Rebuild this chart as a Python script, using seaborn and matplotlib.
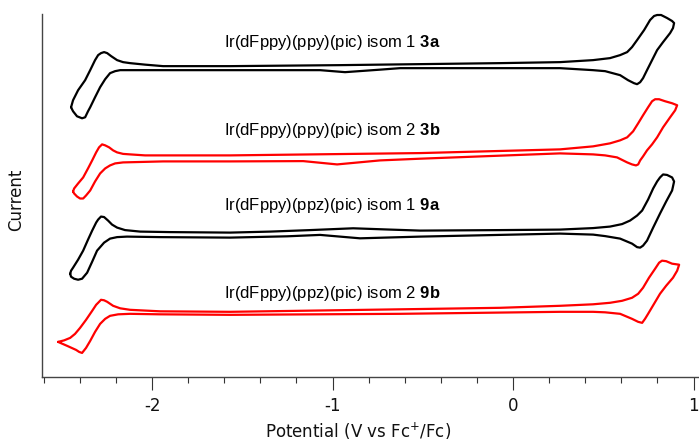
import matplotlib
matplotlib.use("Agg")
import matplotlib.pyplot as plt
import seaborn as sns
import pandas as pd

# ---- data (potential in V vs Fc+/Fc, current in arbitrary units incl. vertical offset) ----
v_3a = [-2.449, -2.438, -2.410, -2.371, -2.343, -2.316, -2.299, -2.283, -2.266, -2.249,
        -2.227, -2.194, -2.161, -2.122, -2.039, -1.939, -1.568, -0.958, -0.515, -0.072,
        0.260, 0.443, 0.537, 0.593, 0.632, 0.659, 0.687, 0.726, 0.759, 0.781,
        0.798, 0.820, 0.853, 0.881, 0.892, 0.886, 0.870, 0.831, 0.798, 0.770,
        0.742, 0.720, 0.704, 0.687, 0.670, 0.637, 0.593, 0.510, 0.443, 0.260,
        -0.072, -0.626, -0.737, -0.931, -1.069, -1.568, -1.939, -2.066, -2.177, -2.205,
        -2.233, -2.260, -2.288, -2.316, -2.343, -2.355, -2.371, -2.388, -2.416, -2.438,
        -2.449]
i_3a = [269, 276, 286, 296, 306, 316, 321, 323, 324, 323,
        320, 316, 314, 313, 311.5, 310, 310, 311, 312, 313,
        314, 316, 318, 321, 324, 329, 336, 346, 356, 360,
        361, 361, 358, 355, 353, 348, 343, 334, 326, 316,
        306, 298, 294, 292, 293, 296, 301, 305, 306, 308,
        308, 308, 306.5, 304, 306, 306, 306, 306, 306, 305,
        303, 297, 289, 279, 269, 265, 259, 258, 260, 265,
        269]

v_3b = [-2.438, -2.432, -2.410, -2.382, -2.355, -2.332, -2.310, -2.294, -2.277, -2.260,
        -2.238, -2.216, -2.194, -2.161, -2.122, -2.039, -1.939, -1.568, -0.515, 0.260,
        0.443, 0.537, 0.593, 0.632, 0.665, 0.693, 0.720, 0.748, 0.770, 0.787,
        0.809, 0.842, 0.881, 0.909, 0.898, 0.870, 0.831, 0.798, 0.770, 0.742,
        0.720, 0.704, 0.693, 0.681, 0.659, 0.632, 0.576, 0.510, 0.443, 0.260,
        -0.515, -0.737, -0.975, -1.163, -1.568, -1.939, -2.161, -2.205, -2.233, -2.260,
        -2.288, -2.316, -2.343, -2.366, -2.382, -2.399, -2.416, -2.432, -2.438]
i_3b = [185, 188, 193, 199, 208, 216, 224, 229, 232, 231,
        229, 226, 224, 222.5, 222, 221, 221, 221, 223.3, 227,
        230, 233, 236, 239, 245, 253, 261, 269, 275, 277,
        277, 275, 273, 271, 266, 259, 249, 239, 232, 226,
        220, 216, 212, 211, 212, 214, 219, 221, 222, 223,
        217.7, 216, 212, 215.3, 215, 215, 214, 213, 211, 208,
        203, 195, 186, 181, 178, 178, 180, 183, 185]

v_9a = [-2.454, -2.449, -2.438, -2.410, -2.382, -2.355, -2.332, -2.310, -2.299, -2.283,
        -2.266, -2.244, -2.222, -2.194, -2.150, -2.066, -1.900, -1.568, -1.346, -1.125,
        -0.886, -0.681, -0.515, -0.072, 0.260, 0.443, 0.537, 0.604, 0.648, 0.687,
        0.715, 0.748, 0.776, 0.798, 0.814, 0.831, 0.853, 0.881, 0.892, 0.886,
        0.881, 0.848, 0.814, 0.776, 0.742, 0.720, 0.704, 0.687, 0.659, 0.593,
        0.510, 0.443, 0.260, -0.515, -0.848, -1.069, -1.252, -1.568, -1.956, -2.139,
        -2.194, -2.233, -2.266, -2.305, -2.332, -2.360, -2.388, -2.410, -2.432, -2.449,
        -2.454]
i_9a = [103, 106, 109, 117, 126, 137, 146, 154, 157, 160,
        159.5, 156, 152, 149, 146.5, 145, 144.5, 144, 145, 146.5,
        148.3, 147, 146, 146.5, 147, 148.5, 150, 152.5, 156, 161,
        166, 177, 188, 195, 199, 202, 201.5, 199, 195, 190,
        186, 175, 163, 149, 136, 131, 129, 129.5, 133, 138,
        140.5, 142, 143, 140, 138.3, 141.7, 140.3, 139, 139.5, 140,
        139.5, 138, 134, 126, 115, 104, 98, 97, 98, 100,
        103]

v_9b = [-2.521, -2.488, -2.454, -2.427, -2.399, -2.366, -2.332, -2.310, -2.299, -2.283,
        -2.266, -2.249, -2.216, -2.177, -2.122, -1.956, -1.568, -0.626, -0.072, 0.260,
        0.443, 0.537, 0.604, 0.659, 0.693, 0.720, 0.753, 0.787, 0.809, 0.825,
        0.848, 0.881, 0.920, 0.909, 0.886, 0.848, 0.814, 0.781, 0.748, 0.731,
        0.715, 0.693, 0.659, 0.593, 0.510, 0.443, 0.260, -0.626, -1.568, -1.956,
        -2.122, -2.188, -2.233, -2.260, -2.288, -2.316, -2.343, -2.366, -2.388, -2.404,
        -2.421, -2.470, -2.521]
i_9b = [35, 36.5, 39, 43, 49, 57, 66, 72, 74, 77,
        76.5, 75, 71, 68.5, 67, 65.5, 65, 67.5, 69, 71,
        72.5, 74, 76, 79, 83, 89, 99, 108, 114, 116,
        115.5, 113, 112, 106, 99, 91, 83, 73, 63, 58,
        54, 55, 58, 63, 64.5, 65, 65, 63, 62, 62.5,
        63, 62.5, 61, 58, 53, 45, 36, 29, 24, 25,
        27, 31, 35]

curves = [("3a", v_3a, i_3a, "black"),
          ("3b", v_3b, i_3b, "#ff0000"),
          ("9a", v_9a, i_9a, "black"),
          ("9b", v_9b, i_9b, "#ff0000")]

label_text = ["Ir(dFppy)(ppy)(pic) isom 1", "Ir(dFppy)(ppy)(pic) isom 2",
              "Ir(dFppy)(ppz)(pic) isom 1", "Ir(dFppy)(ppz)(pic) isom 2"]
label_bold = ["3a", "3b", "9a", "9b"]
label_y = [334, 246, 171, 83]
label_x = -1.60

major_ticks = [-2, -1, 0, 1]

# ---- styling ----
sns.set_theme(style="white")
plt.rcParams["font.family"] = ["DejaVu Sans"]
plt.rcParams["axes.unicode_minus"] = False
plt.rcParams["mathtext.fontset"] = "custom"
plt.rcParams["mathtext.rm"] = "DejaVu Sans"
plt.rcParams["mathtext.bf"] = "Liberation Sans:bold"

fig = plt.figure(figsize=(6.99, 4.41), dpi=100)
ax = fig.add_axes([42 / 699, (441 - 377) / 441, 657 / 699, 363 / 441])

for name, v, i, col in curves:
    df = pd.DataFrame({"Potential": v, "Current": i})
    sns.lineplot(data=df, x="Potential", y="Current", sort=False, estimator=None,
                 color=col, lw=1.6, ax=ax)
for line in ax.lines:
    line.set_clip_on(False)
    line.set_solid_joinstyle("round")

for t, b, y in zip(label_text, label_bold, label_y):
    ax.text(label_x, y, t + r" $\mathbf{" + b + "}$", fontsize=12, color="black",
            family="Liberation Sans", ha="left", va="center")

ax.set_xlim(-2.61, 1.03)
ax.set_ylim(0, 362)
ax.set_xticks(major_ticks)
ax.set_xticklabels([str(t) for t in major_ticks])
ax.set_xticks([round(-2.6 + 0.2 * k, 1) for k in range(19)], minor=True)
ax.set_yticks([])
ax.tick_params(axis="x", which="major", direction="out", length=9.5, width=0.8,
               color="#333333", labelsize=12, pad=5, bottom=True, labelcolor="#111111")
ax.tick_params(axis="x", which="minor", direction="out", length=4.5, width=0.8,
               color="#333333", bottom=True)
for s in ["top", "right"]:
    ax.spines[s].set_visible(False)
for s in ["left", "bottom"]:
    ax.spines[s].set_color("#444444")
    ax.spines[s].set_linewidth(1.0)

ax.set_xlabel(r"Potential (V vs Fc$^{+}$/Fc)", fontsize=12, color="#111111")
ax.xaxis.set_label_coords((358 - 42) / 657, -(421 - 377) / 363)
ax.set_ylabel("Current", fontsize=12, color="#111111")
ax.yaxis.set_label_coords((25 - 42) / 657, (377 - 200) / 363)

fig.savefig("out.png", dpi=100)
